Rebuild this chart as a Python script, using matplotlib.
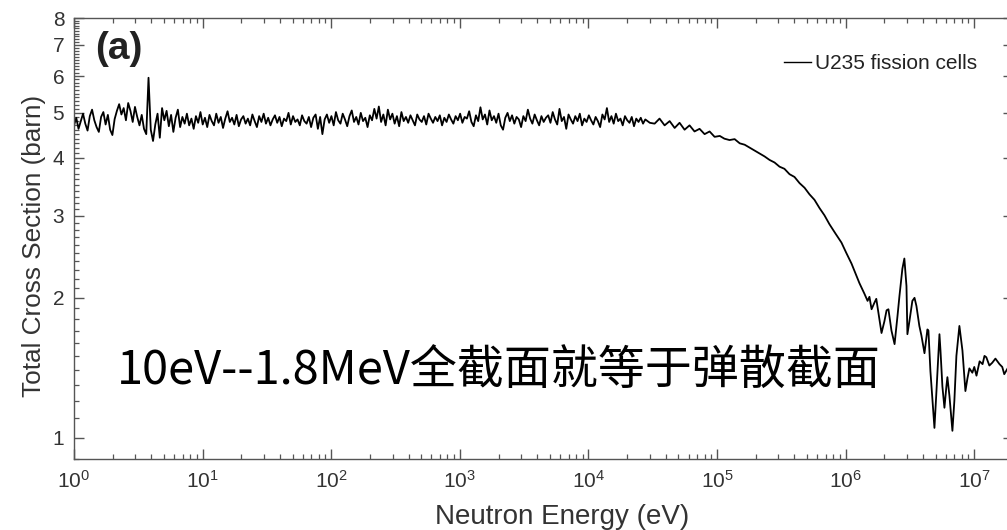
import numpy as np
import matplotlib
matplotlib.use("Agg")
import matplotlib.pyplot as plt
from matplotlib.ticker import FixedLocator, FixedFormatter, LogLocator, NullFormatter

plt.rcParams['font.family'] = ['Liberation Sans', 'DejaVu Sans']
plt.rcParams['mathtext.fontset'] = 'custom'
plt.rcParams['mathtext.rm'] = 'Liberation Sans'
plt.rcParams['mathtext.it'] = 'Liberation Sans:italic'
plt.rcParams['mathtext.bf'] = 'Liberation Sans:bold'

# Total cross section of U235 fission-cell material, 1 eV - 30 keV (log-spaced grid)
flat_sigma = [
    4.70, 4.88, 4.62, 4.80, 4.98, 4.74, 4.58, 4.92, 5.08, 4.82,
    4.66, 4.55, 4.90, 5.02, 4.72, 4.95, 4.60, 4.48, 4.85, 5.05,
    5.22, 4.96, 5.12, 4.82, 5.25, 5.05, 4.78, 5.15, 4.90, 4.70,
    4.95, 4.62, 4.50, 5.95, 4.60, 4.35, 4.72, 4.98, 4.42, 5.12,
    4.82, 5.05, 4.68, 4.95, 4.55, 4.88, 5.08, 4.66, 4.90, 4.74,
    4.98, 4.70, 4.86, 4.62, 4.92, 4.76, 5.02, 4.72, 4.88, 4.66,
    4.95, 4.80, 4.70, 4.98, 4.76, 4.90, 4.64, 4.86, 5.04, 4.78,
    4.88, 4.72, 4.95, 4.68, 4.84, 4.92, 4.74, 4.86, 4.70, 4.96,
    4.80, 4.66, 4.92, 4.78, 4.98, 4.74, 4.88, 4.70, 4.84, 4.94,
    4.76, 4.90, 4.68, 4.86, 4.80, 5.00, 4.72, 4.92, 4.78, 4.84,
    4.70, 4.94, 4.80, 4.74, 4.90, 4.66, 4.88, 4.96, 4.62, 4.90,
    4.50, 4.84, 4.96, 4.76, 4.92, 4.70, 5.02, 4.82, 4.74, 4.98,
    4.84, 4.68, 4.92, 5.06, 4.78, 4.90, 4.72, 5.00, 4.80, 4.88,
    4.66, 4.94, 4.82, 5.10, 4.86, 5.16, 4.78, 4.96, 4.70, 5.08,
    4.84, 4.98, 4.74, 4.92, 4.68, 5.02, 4.80, 4.90, 4.76, 4.94,
    4.82, 4.70, 4.96, 4.84, 4.78, 4.92, 4.72, 4.98, 4.86, 4.76,
    4.90, 4.80, 4.94, 4.70, 4.88, 4.78, 4.96, 4.84, 4.74, 4.92,
    4.82, 4.98, 4.76, 4.90, 4.86, 5.04, 4.78, 4.68, 4.94, 4.80,
    5.14, 4.84, 4.96, 4.72, 5.06, 4.82, 4.92, 4.76, 4.98, 4.70,
    4.60, 4.88, 5.00, 4.80, 4.94, 4.74, 4.90, 4.84, 4.66, 4.92,
    4.80, 5.08, 4.86, 4.74, 4.96, 4.82, 4.70, 4.92, 4.78, 4.88,
    4.94, 4.76, 5.02, 4.84, 4.72, 5.10, 4.80, 4.90, 4.62, 4.96,
    4.84, 4.74, 4.92, 4.80, 4.98, 4.70, 4.86, 4.78, 4.94, 4.82,
    4.72, 4.90, 4.80, 4.66, 4.96, 4.84, 5.12, 4.78, 4.92, 4.74,
    4.98, 4.80, 4.86, 4.70, 4.92, 4.82, 4.76, 4.90, 4.68, 4.86,
    4.78, 4.88, 4.74, 4.84, 4.80, 4.76,
]
flat_energy = np.geomspace(1.0, 3.0e4, len(flat_sigma))

# Fast region: smooth fall-off followed by resonance-like structure
fast_energy = [
    3.27e4, 3.57e4, 3.91e4, 4.28e4, 4.68e4, 5.11e4, 5.59e4, 6.11e4, 6.68e4, 7.31e4,
    8.00e4, 8.75e4, 9.57e4, 1.05e5, 1.14e5, 1.25e5, 1.37e5, 1.50e5, 1.64e5, 1.79e5,
    1.96e5, 2.14e5, 2.34e5, 2.56e5, 2.80e5, 3.06e5, 3.34e5, 3.66e5, 4.00e5, 4.38e5,
    4.79e5, 5.23e5, 5.72e5, 6.26e5, 6.84e5, 7.48e5, 8.33e5, 9.27e5, 1.01e6, 1.11e6,
    1.19e6, 1.28e6, 1.40e6, 1.48e6, 1.53e6, 1.59e6, 1.67e6, 1.73e6, 1.83e6, 1.90e6,
    2.00e6, 2.08e6, 2.15e6, 2.27e6, 2.40e6, 2.53e6, 2.62e6, 2.76e6, 2.86e6, 2.97e6,
    3.02e6, 3.13e6, 3.30e6, 3.43e6, 3.55e6, 3.74e6, 3.88e6, 4.10e6, 4.32e6, 4.40e6,
    4.56e6, 4.81e6, 4.90e6, 5.08e6, 5.36e6, 5.46e6, 5.65e6, 5.86e6, 6.07e6, 6.18e6,
    6.41e6, 6.76e6, 7.00e6, 7.26e6, 7.66e6, 8.09e6, 8.53e6, 8.84e6, 9.16e6, 9.66e6,
    1.00e7, 1.04e7, 1.10e7, 1.16e7, 1.20e7, 1.24e7, 1.31e7, 1.38e7, 1.46e7, 1.57e7,
    1.65e7, 1.71e7, 1.87e7, 1.98e7,
]
fast_sigma = [
    4.74, 4.86, 4.70, 4.80, 4.64, 4.76, 4.60, 4.70, 4.56, 4.62,
    4.50, 4.56, 4.44, 4.46, 4.40, 4.37, 4.39, 4.30, 4.27, 4.21,
    4.15, 4.09, 4.03, 3.96, 3.91, 3.83, 3.79, 3.69, 3.64, 3.53,
    3.45, 3.34, 3.25, 3.12, 3.01, 2.88, 2.75, 2.63, 2.50, 2.37,
    2.26, 2.15, 2.04, 1.97, 2.01, 1.89, 1.95, 1.99, 1.80, 1.68,
    1.78, 1.88, 1.89, 1.70, 1.59, 1.83, 2.02, 2.31, 2.43, 2.12,
    1.67, 1.78, 1.97, 2.00, 1.92, 1.74, 1.66, 1.52, 1.71, 1.70,
    1.39, 1.13, 1.05, 1.26, 1.67, 1.54, 1.29, 1.16, 1.29, 1.35,
    1.23, 1.035, 1.20, 1.50, 1.74, 1.54, 1.26, 1.34, 1.41, 1.38,
    1.42, 1.36, 1.46, 1.44, 1.50, 1.49, 1.43, 1.45, 1.48, 1.44,
    1.42, 1.37, 1.43, 1.41,
]

energy = np.concatenate([flat_energy, fast_energy])
sigma = np.concatenate([flat_sigma, fast_sigma])

y_major = [1, 2, 3, 4, 5, 6, 7, 8]
x_decades = [1e0, 1e1, 1e2, 1e3, 1e4, 1e5, 1e6, 1e7]

W, H = 1007, 530
fig = plt.figure(figsize=(W / 100, H / 100), dpi=100)
ax = fig.add_axes([74 / W, 1 - 459 / H, 939 / W, 441 / H])

ax.plot(energy, sigma, color='black', lw=1.3, label='U235 fission cells')

ax.set_xscale('log')
ax.set_yscale('log')
ax.set_xlim(1, 2e7)
ax.set_ylim(0.9, 8)

ax.xaxis.set_major_locator(FixedLocator(x_decades))
ax.xaxis.set_minor_locator(LogLocator(base=10, subs=np.arange(2, 10), numticks=20))
ax.xaxis.set_minor_formatter(NullFormatter())

ax.yaxis.set_major_locator(FixedLocator(y_major))
ax.yaxis.set_major_formatter(FixedFormatter([str(v) for v in y_major]))
y_minor = [round(v, 1) for v in np.arange(0.9, 8.0, 0.1) if abs(v - round(v)) > 1e-6]
ax.yaxis.set_minor_locator(FixedLocator(y_minor))
ax.yaxis.set_minor_formatter(NullFormatter())

spine_c = '#555555'
for s in ax.spines.values():
    s.set_color(spine_c)
    s.set_linewidth(1.0)
ax.tick_params(which='both', direction='in', top=True, right=True, color=spine_c,
               labelcolor='#333333')
ax.tick_params(which='major', length=7.5, width=1.0, labelsize=15)
ax.tick_params(which='minor', length=3.8, width=0.9)
ax.tick_params(axis='x', which='major', pad=8)
ax.tick_params(axis='y', which='major', pad=7)

ax.set_xlabel('Neutron Energy (eV)', fontsize=20, color='#333333')
ax.xaxis.set_label_coords((562 - 74) / 939, -(517 - 459) / 441)
ax.xaxis.label.set_va('center')
ax.set_ylabel('Total Cross Section (barn)', fontsize=18.8, color='#333333')
ax.yaxis.set_label_coords(-(74 - 34) / 939, (459 - 246) / 441)
ax.yaxis.label.set_va('center')

leg = ax.legend(loc='upper right', bbox_to_anchor=(985 / W, 1 - 46 / H),
                bbox_transform=fig.transFigure, frameon=False, fontsize=15,
                handlelength=1.3, handletextpad=0.15, borderaxespad=0)
for t in leg.get_texts():
    t.set_color('#222222')
for ln in leg.get_lines():
    ln.set_linewidth(1.0)

fig.text(95 / W, 1 - 49 / H, '(a)', fontsize=28, fontweight='bold',
         va='center', ha='left', color='#222222')

fig.text(117 / W, 1 - 372 / H, '10eV--1.8MeV全截面就等于弹散截面', fontsize=33.8,
         family=['Noto Sans CJK SC', 'DejaVu Sans'], va='center', ha='left',
         color='black')

fig.savefig('out.png', dpi=100)
